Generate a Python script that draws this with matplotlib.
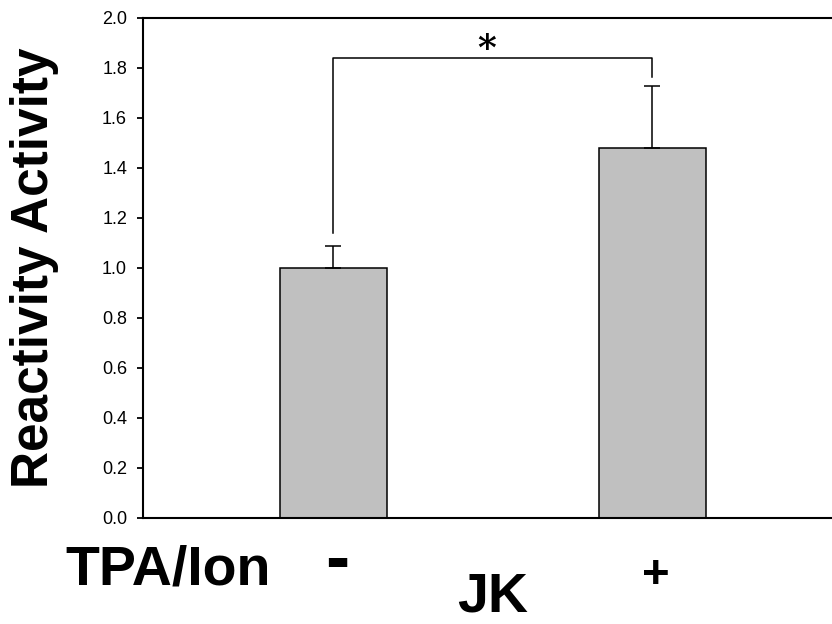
import numpy as np
import matplotlib.pyplot as plt

plt.rcParams['font.family'] = ['Liberation Sans', 'DejaVu Sans']

# data
groups = ["-", "+"]
means = [1.00, 1.48]
errors = [0.09, 0.25]
yticks = [0.0, 0.2, 0.4, 0.6, 0.8, 1.0, 1.2, 1.4, 1.6, 1.8, 2.0]

W, H = 832, 624
fig = plt.figure(figsize=(W / 100, H / 100), dpi=100)
ax = fig.add_axes([143 / W, 1 - 518 / H, 1 - 143 / W, 500 / H])

x = np.arange(len(means))
ax.bar(x, means, width=0.335, color="#c0c0c0", edgecolor="black", linewidth=1.1, zorder=2)
ax.errorbar(x, means, yerr=[np.zeros(len(errors)), errors], fmt="none",
            ecolor="black", elinewidth=1.1, capsize=5.5, capthick=1.1, zorder=3)

# significance bracket
top = 1.84
gap = 0.05
legs = [means[0] + errors[0] + gap, means[1] + errors[1] + 0.035]
ax.plot([x[0], x[0], x[1], x[1]], [legs[0], top, top, legs[1]], color="black", lw=1.1, zorder=3)
ax.text(0.483, top - 0.03, "*", ha="center", va="bottom", fontsize=26,
        fontweight="bold", family="DejaVu Serif")

ax.set_xlim(-0.596, 1.564)
ax.set_ylim(0, 2.0)
ax.set_yticks(yticks)
ax.set_yticklabels([f"{t:.1f}" for t in yticks], fontsize=13)
ax.set_xticks([])
ax.tick_params(axis="y", direction="out", length=4.5, width=1.3, pad=7)
for s in ["left", "bottom", "top"]:
    ax.spines[s].set_linewidth(1.5)
ax.spines["right"].set_visible(False)

ax.set_ylabel("Reactivity Activity", fontsize=37, fontweight="bold")
ax.yaxis.set_label_coords(-0.122, 0.5)

# bottom labels
fig.text(168 / W, 1 - 585 / H, "TPA/Ion", ha="center", va="baseline", fontsize=40, fontweight="bold")
fig.text(337 / W, 1 - 581 / H, groups[0], ha="center", va="baseline", fontsize=52, fontweight="bold")
fig.text(656 / W, 1 - 588 / H, groups[1], ha="center", va="baseline", fontsize=34, fontweight="bold")
fig.text(493 / W, 1 - 611 / H, "JK", ha="center", va="baseline", fontsize=40, fontweight="bold")

fig.savefig("out.png", dpi=100)
